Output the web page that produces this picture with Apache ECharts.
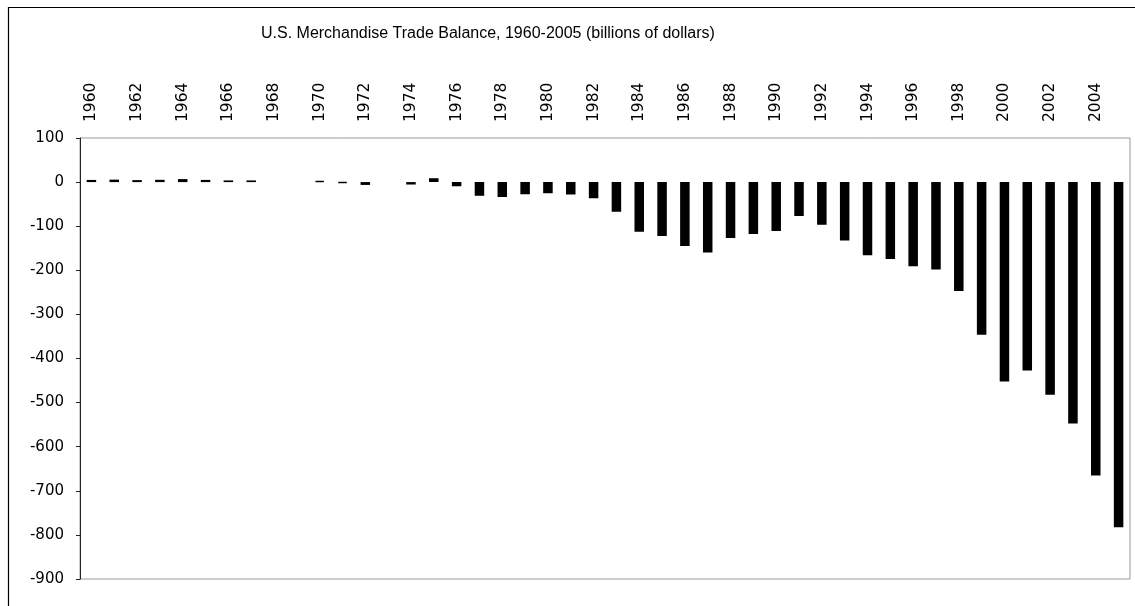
<!DOCTYPE html>
<html>
<head>
<meta charset="utf-8">
<script src="https://cdn.jsdelivr.net/npm/echarts@6/dist/echarts.min.js"></script>
<style>
  html, body { margin: 0; padding: 0; background: #fff; }
  #chart { width: 1135px; height: 606px; }
</style>
</head>
<body>
<div id="chart"></div>
<script>
const titleText = 'U.S. Merchandise Trade Balance, 1960-2005 (billions of dollars)';
const years = ['1960','1961','1962','1963','1964','1965','1966','1967','1968','1969',
  '1970','1971','1972','1973','1974','1975','1976','1977','1978','1979',
  '1980','1981','1982','1983','1984','1985','1986','1987','1988','1989',
  '1990','1991','1992','1993','1994','1995','1996','1997','1998','1999',
  '2000','2001','2002','2003','2004','2005'];
const balance = [4.9, 5.6, 4.5, 5.2, 6.8, 5.0, 3.8, 3.8, null, null,
  2.6, -2.3, -6.4, null, -5.5, 8.9, -9.5, -31.1, -33.9, -27.6,
  -25.5, -28.0, -36.5, -67.1, -112.5, -122.2, -145.1, -159.6, -127.0, -117.7,
  -111.0, -76.9, -96.9, -132.5, -165.8, -174.2, -191.0, -198.1, -246.7, -346.0,
  -452.4, -427.2, -482.3, -547.3, -665.4, -782.7];
const yMin = -900, yMax = 100, yStep = 100;

const chart = echarts.init(document.getElementById('chart'), null, { renderer: 'canvas' });
chart.setOption({
  animation: false,
  backgroundColor: '#ffffff',
  title: {
    text: titleText,
    left: 256,
    top: 21,
    textStyle: { fontFamily: 'Liberation Sans', fontSize: 16, fontWeight: 'normal', color: '#000' }
  },
  graphic: [{
    type: 'polyline',
    shape: { points: [[8.5, 700], [8.5, 7.5], [1200, 7.5]] },
    style: { stroke: '#000', lineWidth: 1.2, fill: null },
    silent: true
  }],
  grid: {
    left: 80, right: 5, top: 138, bottom: 27,
    show: true, borderColor: '#999', borderWidth: 1, backgroundColor: 'transparent'
  },
  xAxis: {
    type: 'category',
    data: years,
    position: 'top',
    axisLine: { show: false },
    axisTick: { show: false },
    splitLine: { show: false },
    axisLabel: {
      interval: 1,
      rotate: 90,
      margin: 16,
      fontFamily: 'DejaVu Sans',
      fontSize: 15.5,
      color: '#000'
    }
  },
  yAxis: {
    type: 'value',
    min: yMin, max: yMax, interval: yStep,
    axisLine: { show: true, lineStyle: { color: '#222', width: 1 } },
    axisTick: { show: true, inside: false, length: 4, lineStyle: { color: '#222' } },
    splitLine: { show: false },
    axisLabel: { margin: 16, fontFamily: 'DejaVu Sans', fontSize: 15, color: '#000' }
  },
  series: [{
    type: 'bar',
    data: balance,
    barWidth: 9.5,
    itemStyle: { color: '#000', borderColor: '#000', borderWidth: 1.5 }
  }]
});
</script>
</body>
</html>
